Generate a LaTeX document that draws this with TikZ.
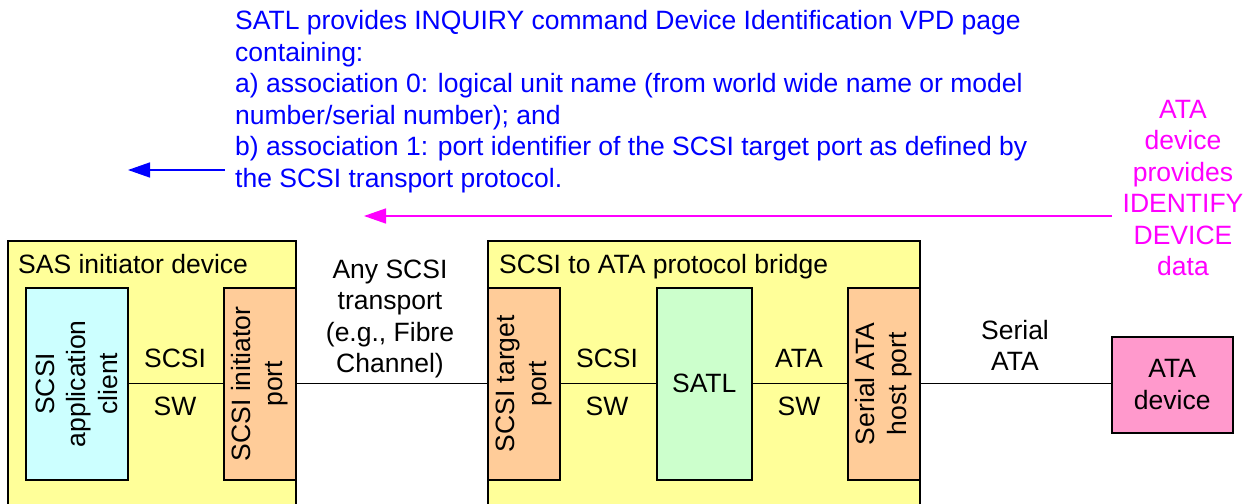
\documentclass[tikz,border=0pt]{standalone}
\usepackage{fontspec}
\setmainfont{Liberation Sans}
\usetikzlibrary{arrows.meta}
\definecolor{yel}{HTML}{FFFF99}
\definecolor{cyn}{HTML}{CCFFFF}
\definecolor{org}{HTML}{FFCC99}
\definecolor{grn}{HTML}{CCFFCC}
\definecolor{pnk}{HTML}{FF99CC}
\definecolor{blu}{HTML}{0000FF}
\definecolor{mag}{HTML}{FF00FF}
\newcommand{\mlc}[1]{\begin{tabular}[t]{@{}c@{}}#1\end{tabular}}
\newcommand{\mll}[1]{\begin{tabular}[t]{@{}l@{}}#1\end{tabular}}
\begin{document}
\begin{tikzpicture}[x=1pt,y=-1pt,
  box/.style={draw=black, line width=1.5pt, inner sep=0pt, anchor=north west},
  txt/.style={font=\fontsize{26.5}{31.5}\selectfont, inner sep=0pt},
  conn/.style={draw=black, line width=1.3pt},
  arr/.style={line width=1.5pt, -{Triangle[length=22pt,width=15pt]}}]
\useasboundingbox (0,0) rectangle (1252,503);
\clip (0,0) rectangle (1252,503);
% outer boxes
\node[box, fill=yel, minimum width=288pt, minimum height=300pt] (sas) at (7,240) {};
\node[box, fill=yel, minimum width=432pt, minimum height=300pt] (bridge) at (487,240) {};
% inner boxes
\node[box, fill=cyn, minimum width=102pt, minimum height=192pt] (app) at (25,287) {};
\node[box, fill=org, minimum width=72pt, minimum height=192pt] (iport) at (223,287) {};
\node[box, fill=org, minimum width=72pt, minimum height=192pt] (tport) at (487,287) {};
\node[box, fill=grn, minimum width=95pt, minimum height=192pt, txt] (satl) at (656,287) {SATL};
\node[box, fill=org, minimum width=72pt, minimum height=192pt] (hport) at (847,287) {};
\node[box, fill=pnk, minimum width=121pt, minimum height=96pt, txt, align=center] (ata) at (1111,336) {ATA\\device};
% titles
\node[txt, anchor=base west] (sastitle) at (18,273) {SAS initiator device};
\node[txt, anchor=base west] (brtitle) at (499,273) {SCSI to ATA protocol bridge};
% rotated labels
\node[txt, rotate=90, align=center] (applbl) at (app.center) {SCSI\\application\\client};
\node[txt, rotate=90, align=center] (iportlbl) at (iport.center) {SCSI initiator\\port};
\node[txt, rotate=90, align=center] (tportlbl) at (tport.center) {SCSI target\\port};
\node[txt, rotate=90, align=center] (hportlbl) at (hport.center) {Serial ATA\\host port};
% connectors
\draw[conn] (app.east) -- (iport.west);
\draw[conn] (iport.east) -- (tport.west);
\draw[conn] (tport.east) -- (satl.west);
\draw[conn] (satl.east) -- (hport.west);
\draw[conn] (hport.east) -- (hport.east -| ata.west);
% connector labels
\node[txt, anchor=base] (l1a) at (175,367) {SCSI};
\node[txt, anchor=base] (l1b) at (175,415) {SW};
\node[txt, anchor=base] (l2a) at (607,367) {SCSI};
\node[txt, anchor=base] (l2b) at (607,415) {SW};
\node[txt, anchor=base] (l3a) at (799,367) {ATA};
\node[txt, anchor=base] (l3b) at (799,415) {SW};
\node[txt, anchor=base] (anyscsi) at (390,278) {\mlc{Any SCSI\\transport\\(e.g., Fibre\\Channel)}};
\node[txt, anchor=base] (sata) at (1015,339) {\mlc{Serial\\ATA}};
% annotations
\node[txt, text=blu, anchor=base west] (bluetxt) at (235,30) {\mll{SATL provides INQUIRY command Device Identification VPD page\\containing:\\a) association 0: logical unit name (from world wide name or model\\number/serial number); and\\b) association 1: port identifier of the SCSI target port as defined by\\the SCSI transport protocol.}};
\node[txt, text=mag, anchor=base] (magtxt) at (1183,118) {\mlc{ATA\\device\\provides\\IDENTIFY\\DEVICE\\data}};
\coordinate (bs) at (225,170);
\coordinate (be) at (128,170);
\coordinate (ms) at (1112,216);
\coordinate (me) at (364,216);
\draw[arr, blu] (bs) -- (be);
\draw[arr, mag] (ms) -- (me);
\end{tikzpicture}
\end{document}
